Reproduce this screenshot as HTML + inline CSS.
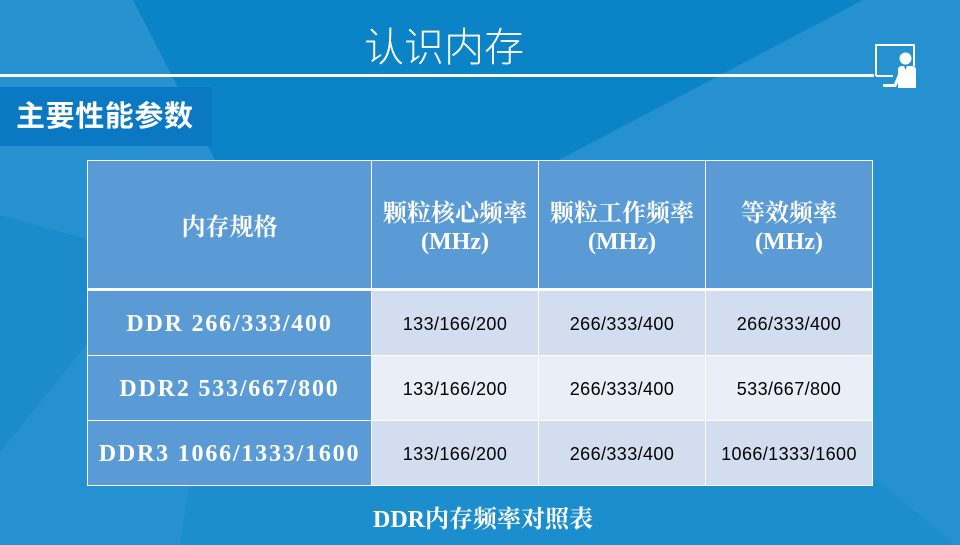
<!DOCTYPE html>
<html><head><meta charset="utf-8">
<style>
*{margin:0;padding:0;box-sizing:border-box}
html,body{width:960px;height:545px;overflow:hidden}
body{position:relative;background:#2591d0;font-family:"Liberation Sans","Noto Sans CJK SC",sans-serif}
.abs{position:absolute}
.cell{position:absolute;display:flex;align-items:center;justify-content:center;text-align:center}
.hd{background:#5b9bd5;color:#fff;font-family:"Liberation Serif","Noto Serif CJK SC",serif;font-weight:bold;font-size:24px;line-height:28px;padding-top:6px}
.c1{background:#5b9bd5;color:#fff;font-family:"Liberation Serif","Noto Serif CJK SC",serif;font-size:24px;letter-spacing:1.8px;font-weight:bold;padding-top:2px}
.d{color:#000;font-family:"Liberation Sans",sans-serif;font-size:18px;letter-spacing:0.4px;padding-top:3px}
.r1{background:#d2deef}
.r2{background:#e9eef7}
</style></head><body>
<svg class="abs" style="left:0;top:0" width="960" height="545">
<rect width="960" height="545" fill="#2591d0"/>
<polygon points="133,0 863,0 300,296 230,230" fill="#0b83c7"/>
<polygon points="0,0 133,0 215,160 0,160" fill="#2892d1"/>
<polygon points="0,215 90,240 90,340 0,452" fill="#1c8bcc"/>
<polygon points="190,480 878,480 955,545 180,545" fill="#1c8ecd"/>
<rect x="0" y="74" width="874" height="3" fill="#fff"/>
<!-- icon -->
<path d="M876,76 L876,45 L914,45 L914,66" fill="none" stroke="#fff" stroke-width="2"/>
<path d="M876,76 L893,76" fill="none" stroke="#fff" stroke-width="2"/>
<circle cx="905.5" cy="58.5" r="6" fill="#fff"/>
<path d="M898,88 L898,70 Q898,66 902,66 L904,66 L905.5,70 L907,66 L912,66 Q916,66 916,70 L916,88 Z" fill="#fff"/>
<path d="M899,72 L894,84 L883,84 L883,87 L896,87 L900,78 Z" fill="#fff"/>
</svg>

<div class="abs" style="left:364px;top:27px;font-size:40px;line-height:42px;color:#fff;font-family:'Liberation Sans','Noto Sans CJK SC',sans-serif;font-weight:300;white-space:nowrap">认识内存</div>

<div class="abs" style="left:0;top:87px;width:212px;height:59px;background:#0b78c4"></div>
<div class="abs" style="left:16px;top:101px;font-size:29px;line-height:32px;color:#fff;font-weight:bold;letter-spacing:0.6px;white-space:nowrap;font-family:'Liberation Sans','Noto Sans CJK SC',sans-serif">主要性能参数</div>

<!-- table -->
<div class="abs" style="left:87px;top:160px;width:786px;height:326px;background:#fff"></div>
<!-- header -->
<div class="cell hd" style="left:88px;top:161px;width:283px;height:127px">内存规格</div>
<div class="cell hd" style="left:372px;top:161px;width:166px;height:127px">颗粒核心频率<br>(MHz)</div>
<div class="cell hd" style="left:539px;top:161px;width:166px;height:127px">颗粒工作频率<br>(MHz)</div>
<div class="cell hd" style="left:706px;top:161px;width:166px;height:127px">等效频率<br>(MHz)</div>
<!-- row1 -->
<div class="cell c1" style="left:88px;top:291px;width:283px;height:64px">DDR 266/333/400</div>
<div class="cell d r1" style="left:372px;top:291px;width:166px;height:64px">133/166/200</div>
<div class="cell d r1" style="left:539px;top:291px;width:166px;height:64px">266/333/400</div>
<div class="cell d r1" style="left:706px;top:291px;width:166px;height:64px">266/333/400</div>
<!-- row2 -->
<div class="cell c1" style="left:88px;top:356px;width:283px;height:64px">DDR2 533/667/800</div>
<div class="cell d r2" style="left:372px;top:356px;width:166px;height:64px">133/166/200</div>
<div class="cell d r2" style="left:539px;top:356px;width:166px;height:64px">266/333/400</div>
<div class="cell d r2" style="left:706px;top:356px;width:166px;height:64px">533/667/800</div>
<!-- row3 -->
<div class="cell c1" style="left:88px;top:421px;width:283px;height:64px">DDR3 1066/1333/1600</div>
<div class="cell d r1" style="left:372px;top:421px;width:166px;height:64px">133/166/200</div>
<div class="cell d r1" style="left:539px;top:421px;width:166px;height:64px">266/333/400</div>
<div class="cell d r1" style="left:706px;top:421px;width:166px;height:64px">1066/1333/1600</div>

<div class="abs" style="left:0;width:966px;top:505px;text-align:center;color:#fff;font-family:'Liberation Serif','Noto Serif CJK SC',serif;font-weight:bold;font-size:24px;line-height:30px">DDR内存频率对照表</div>
</body></html>
